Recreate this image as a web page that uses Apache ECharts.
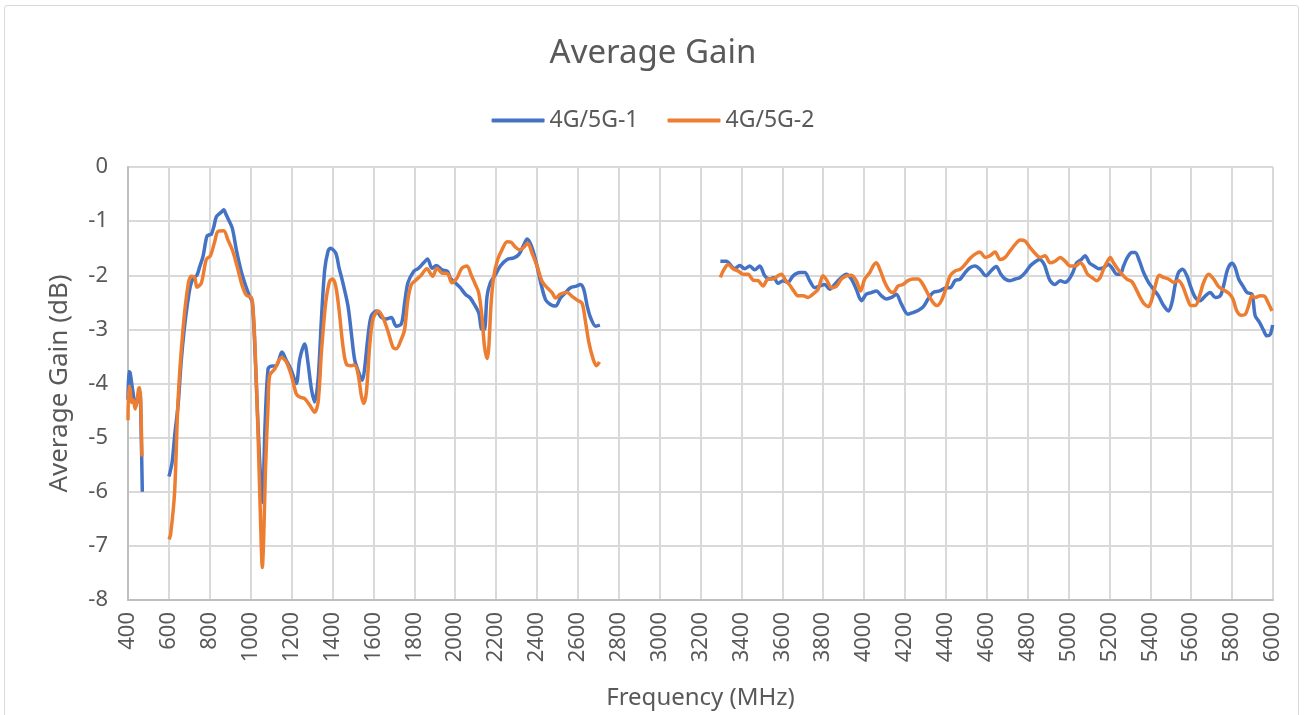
<!DOCTYPE html>
<html>
<head>
<meta charset="utf-8">
<script src="https://cdn.jsdelivr.net/npm/echarts@6/dist/echarts.min.js"></script>
<style>
html,body{margin:0;padding:0;background:#fff;}
#frame{position:absolute;left:4px;top:5px;width:1295px;height:720px;border:1px solid #d9d9d9;border-radius:3px;box-sizing:border-box;}
#chart{position:absolute;left:0;top:0;width:1306px;height:715px;}
</style>
</head>
<body>
<div id="frame"></div>
<div id="chart"></div>
<script>
// ---- data (null = gap in the measurement) ----
const blueFreq = [400,404,410,420,430,438,446,455,460,465,470,535,
600,605,616,630,645,660,675,690,705,720,737,750,767,786,800,808,820,832,848,860,868,880,889,910,930,954,976,995,1008,1020,1035,1052,1058,1070,1085,1101,1126,1153,1174,1199,1223,1240,1264,1280,1297,1313,1330,1346,1362,1378,1390,1416,1432,1451,1476,1492,1508,1525,1546,1557,1574,1590,1615,1639,1663,1688,1712,1737,1753,1769,1797,1821,1846,1865,1887,1908,1936,1963,1976,2001,2025,2050,2074,2094,2115,2131,2143,2156,2172,2197,2221,2254,2287,2311,2336,2352,2371,2393,2417,2442,2466,2491,2515,2540,2564,2593,2613,2629,2646,2662,2687,2708,3000,
3297,3327,3351,3367,3392,3416,3441,3465,3490,3514,3539,3558,3579,3604,3628,3653,3685,3710,3734,3759,3783,3808,3832,3856,3881,3913,3938,3962,3987,4011,4036,4060,4085,4109,4134,4158,4182,4215,4239,4264,4288,4313,4337,4370,4402,
4421,4445,4470,4494,4518,4543,4567,4597,4620,4646,4669,4690,4714,4739,4763,4788,4812,4837,4858,4881,4897,4910,4934,4959,4983,5003,5021,5040,5062,5081,5102,5125,5147,5171,5195,5212,5236,5253,5269,5288,5310,5326,5347,5367,5391,5416,5440,5465,5489,5506,5522,5538,5558,5579,5599,5620,5644,5669,5693,5718,5742,5758,5778,5799,5815,5832,5853,5873,5897,5913,5934,5954,5970,5987,5998];
const blueGain = [-4.3,-3.78,-3.8,-4.05,-4.3,-4.42,-4.3,-4.15,-4.2,-5.0,-6.0,null,
-5.72,-5.65,-5.45,-4.9,-4.4,-3.6,-3.0,-2.55,-2.2,-2.05,-2.0,-1.85,-1.65,-1.28,-1.25,-1.24,-1.1,-0.92,-0.86,-0.82,-0.79,-0.88,-0.95,-1.13,-1.53,-1.93,-2.2,-2.39,-2.5,-3.3,-4.7,-6.0,-6.2,-4.8,-3.73,-3.68,-3.67,-3.42,-3.57,-3.76,-4.0,-3.55,-3.27,-3.61,-4.1,-4.34,-3.91,-2.81,-1.9,-1.56,-1.5,-1.59,-1.86,-2.14,-2.57,-3.06,-3.55,-3.76,-3.94,-3.73,-3.12,-2.75,-2.66,-2.78,-2.81,-2.78,-2.94,-2.9,-2.51,-2.14,-1.93,-1.87,-1.77,-1.7,-1.87,-1.82,-1.9,-1.93,-2.05,-2.14,-2.23,-2.35,-2.42,-2.54,-2.69,-3.0,-3.0,-2.39,-2.14,-1.99,-1.83,-1.71,-1.68,-1.62,-1.44,-1.33,-1.44,-1.71,-2.11,-2.45,-2.54,-2.57,-2.42,-2.32,-2.23,-2.2,-2.17,-2.26,-2.57,-2.78,-2.94,-2.92,null,
-1.74,-1.74,-1.83,-1.88,-1.82,-1.88,-1.83,-1.9,-1.83,-2.01,-2.07,-2.04,-2.15,-2.1,-2.13,-2.01,-1.95,-1.95,-2.1,-2.23,-2.2,-2.17,-2.26,-2.17,-2.07,-1.98,-2.07,-2.26,-2.47,-2.35,-2.32,-2.29,-2.38,-2.44,-2.41,-2.35,-2.53,-2.72,-2.69,-2.65,-2.59,-2.44,-2.32,-2.29,-2.23,
-2.23,-2.1,-2.07,-1.95,-1.86,-1.83,-1.89,-2.01,-1.92,-1.84,-1.98,-2.07,-2.1,-2.07,-2.04,-1.95,-1.83,-1.75,-1.71,-1.8,-1.98,-2.1,-2.17,-2.1,-2.13,-2.07,-1.95,-1.77,-1.71,-1.64,-1.77,-1.83,-1.88,-1.86,-1.8,-1.86,-1.98,-1.98,-1.83,-1.67,-1.58,-1.58,-1.74,-1.95,-2.13,-2.26,-2.38,-2.56,-2.66,-2.5,-2.17,-1.95,-1.89,-2.01,-2.23,-2.41,-2.47,-2.38,-2.32,-2.41,-2.38,-2.2,-1.89,-1.78,-1.86,-2.07,-2.2,-2.32,-2.35,-2.75,-2.87,-3.02,-3.12,-3.09,-2.92];

const orangeFreq = [400,404,410,418,426,435,445,452,457,462,468,535,
600,608,628,645,669,693,707,726,737,759,783,803,824,840,868,889,913,938,959,979,1003,1010,1020,1035,1048,1057,1064,1072,1085,1093,1118,1150,1174,1199,1223,1240,1264,1289,1313,1330,1346,1367,1386,1400,1416,1432,1451,1468,1492,1508,1525,1541,1553,1566,1582,1598,1623,1647,1671,1696,1712,1737,1753,1769,1786,1805,1829,1862,1890,1911,1936,1963,1984,2009,2033,2058,2078,2099,2115,2131,2143,2156,2164,2176,2189,2208,2229,2254,2274,2295,2316,2339,2355,2376,2401,2425,2450,2474,2491,2515,2548,2572,2597,2621,2638,2654,2675,2691,2706,3000,
3297,3314,3335,3359,3384,3408,3433,3457,3482,3506,3530,3555,3579,3596,3617,3636,3656,3677,3702,3726,3750,3775,3799,3819,3840,3865,3889,3913,3938,3962,3983,4003,4028,4044,4060,4080,4101,4125,4142,4166,4190,4215,4239,4264,4288,4313,4337,4357,4378,4402,
4421,4445,4470,4494,4518,4543,4567,4592,4616,4641,4665,4690,4714,4739,4763,4788,4812,4837,4861,4885,4910,4934,4959,4983,5008,5032,5057,5073,5093,5114,5138,5155,5174,5191,5204,5220,5236,5261,5285,5310,5331,5350,5370,5391,5408,5424,5443,5465,5489,5514,5538,5558,5579,5599,5620,5641,5661,5685,5710,5734,5758,5783,5804,5823,5845,5865,5881,5897,5913,5938,5959,5975,5995];
const orangeGain = [-4.68,-4.05,-4.1,-4.35,-4.3,-4.47,-4.3,-4.1,-4.08,-4.3,-5.35,null,
-6.88,-6.8,-6.0,-4.3,-3.0,-2.2,-2.02,-2.04,-2.22,-2.14,-1.71,-1.64,-1.38,-1.19,-1.18,-1.35,-1.56,-1.9,-2.2,-2.37,-2.41,-2.55,-3.2,-4.8,-6.5,-7.4,-6.8,-5.63,-4.4,-3.85,-3.73,-3.52,-3.6,-3.85,-4.19,-4.25,-4.28,-4.4,-4.53,-4.34,-3.42,-2.51,-2.11,-2.07,-2.2,-2.63,-3.3,-3.64,-3.67,-3.66,-3.82,-4.22,-4.37,-4.16,-3.3,-2.81,-2.66,-2.78,-3.03,-3.33,-3.36,-3.18,-3.0,-2.45,-2.17,-2.1,-2.02,-1.88,-2.02,-1.87,-1.96,-1.97,-2.14,-2.05,-1.87,-1.83,-1.99,-2.17,-2.32,-2.75,-3.3,-3.54,-3.36,-2.51,-2.02,-1.71,-1.53,-1.38,-1.39,-1.48,-1.53,-1.47,-1.41,-1.59,-1.83,-2.11,-2.23,-2.32,-2.42,-2.35,-2.32,-2.39,-2.46,-2.52,-2.87,-3.24,-3.55,-3.67,-3.6,null,
-2.04,-1.9,-1.8,-1.88,-1.92,-1.98,-1.98,-2.09,-2.1,-2.2,-2.07,-2.07,-2.01,-1.98,-2.1,-2.18,-2.29,-2.38,-2.38,-2.41,-2.35,-2.26,-2.01,-2.1,-2.23,-2.2,-2.07,-2.01,-2.0,-2.1,-2.29,-2.07,-1.95,-1.83,-1.77,-1.92,-2.13,-2.29,-2.32,-2.2,-2.17,-2.1,-2.07,-2.07,-2.17,-2.35,-2.5,-2.56,-2.47,-2.23,
-2.01,-1.92,-1.89,-1.8,-1.69,-1.61,-1.57,-1.67,-1.64,-1.57,-1.71,-1.67,-1.55,-1.43,-1.35,-1.37,-1.49,-1.6,-1.67,-1.64,-1.77,-1.74,-1.67,-1.74,-1.83,-1.83,-1.77,-1.83,-1.98,-2.04,-2.1,-2.04,-1.86,-1.74,-1.67,-1.77,-1.86,-1.98,-2.07,-2.12,-2.26,-2.41,-2.53,-2.58,-2.44,-2.2,-2.0,-2.04,-2.07,-2.13,-2.1,-2.2,-2.41,-2.56,-2.56,-2.38,-2.13,-1.98,-2.07,-2.21,-2.27,-2.33,-2.44,-2.66,-2.74,-2.72,-2.56,-2.38,-2.41,-2.38,-2.39,-2.5,-2.66];

const seriesNames = ['4G/5G-1', '4G/5G-2'];
const xTickStep = 200;
const yTicks = [-8, 0, 1];

function pairs(fs, gs) {
  return fs.map((f, i) => [f, gs[i] === null ? '-' : gs[i]]);
}

const txt = '#595959';
const font = '"Noto Sans", "Liberation Sans", sans-serif';
const chart = echarts.init(document.getElementById('chart'), null, {renderer: 'canvas'});
chart.setOption({
  animation: false,
  backgroundColor: 'transparent',
  title: {
    text: 'Average Gain',
    left: 'center',
    top: 32,
    textStyle: {color: txt, fontSize: 33, fontWeight: 'normal', fontFamily: font}
  },
  legend: {
    top: 104,
    left: 'center',
    itemWidth: 53,
    itemHeight: 4,
    itemGap: 29,
    icon: 'roundRect',
    textStyle: {color: txt, fontSize: 23, fontFamily: font},
    data: seriesNames
  },
  grid: {left: 128, right: 33, top: 167, bottom: 113, containLabel: false},
  xAxis: {
    type: 'value',
    min: 400, max: 6000, interval: xTickStep,
    name: 'Frequency (MHz)',
    nameLocation: 'middle',
    nameGap: 86,
    nameTextStyle: {color: txt, fontSize: 24, fontFamily: font},
    axisLine: {show: true, onZero: false, lineStyle: {color: '#bfbfbf', width: 2}},
    axisTick: {show: false},
    axisLabel: {rotate: 90, color: txt, fontSize: 22, fontFamily: font, margin: 12,
      formatter: v => String(v)},
    splitLine: {show: true, lineStyle: {color: '#d9d9d9', width: 2}}
  },
  yAxis: {
    type: 'value',
    min: yTicks[0], max: yTicks[1], interval: yTicks[2],
    name: 'Average Gain (dB)',
    nameLocation: 'middle',
    nameGap: 55,
    nameTextStyle: {color: txt, fontSize: 26, fontFamily: font},
    axisLine: {show: true, lineStyle: {color: '#bfbfbf', width: 2}},
    axisTick: {show: false},
    axisLabel: {color: txt, fontSize: 22, fontFamily: font, margin: 20},
    splitLine: {show: true, lineStyle: {color: '#d9d9d9', width: 2}}
  },
  series: [
    {
      name: seriesNames[0], type: 'line', data: pairs(blueFreq, blueGain),
      showSymbol: false, smooth: 0.3, connectNulls: false,
      lineStyle: {color: '#4472C4', width: 3.5}, itemStyle: {color: '#4472C4'}
    },
    {
      name: seriesNames[1], type: 'line', data: pairs(orangeFreq, orangeGain),
      showSymbol: false, smooth: 0.3, connectNulls: false,
      lineStyle: {color: '#ED7D31', width: 3.5}, itemStyle: {color: '#ED7D31'}
    }
  ]
});
</script>
</body>
</html>
